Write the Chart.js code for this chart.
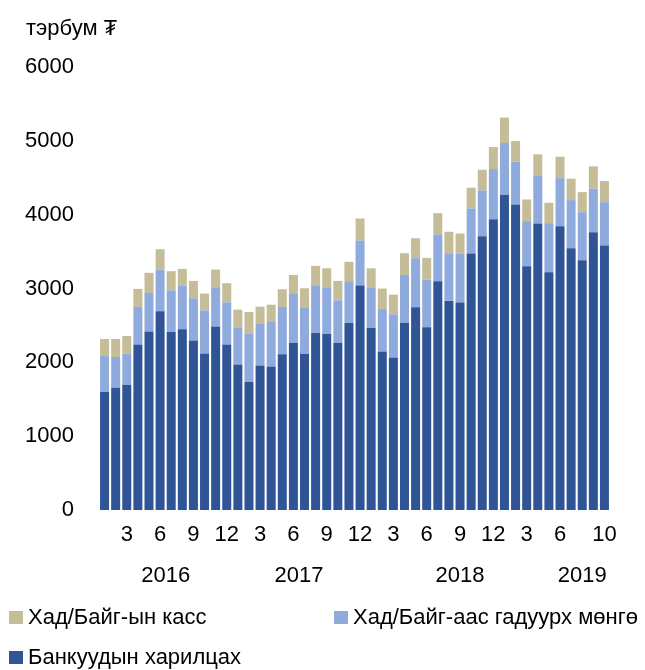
<!DOCTYPE html>
<html>
<head>
<meta charset="utf-8">
<script src="https://cdn.jsdelivr.net/npm/chart.js@4.4.1/dist/chart.umd.min.js"></script>
<style>
  html, body { margin: 0; padding: 0; background: #ffffff; }
  #wrap { width: 645px; height: 670px; position: relative; }
</style>
</head>
<body>
<div id="wrap"><canvas id="c" width="645" height="670"></canvas></div>
<script>
const categories = [
  "2016-01","2016-02","2016-03","2016-04","2016-05","2016-06","2016-07","2016-08","2016-09","2016-10","2016-11","2016-12",
  "2017-01","2017-02","2017-03","2017-04","2017-05","2017-06","2017-07","2017-08","2017-09","2017-10","2017-11","2017-12",
  "2018-01","2018-02","2018-03","2018-04","2018-05","2018-06","2018-07","2018-08","2018-09","2018-10","2018-11","2018-12",
  "2019-01","2019-02","2019-03","2019-04","2019-05","2019-06","2019-07","2019-08","2019-09","2019-10"
];
const tickLabels = [
  "","","3","","","6","","","9","","","12",
  "","","3","","","6","","","9","","","12",
  "","","3","","","6","","","9","","","12",
  "","","3","","","6","","","","10"
];
const yearLabels = ["2016", "2017", "2018", "2019"];
const yearLabelIndex = [5.5, 17.5, 32, 43];

const bankAccounts = [
  1597,1655,1692,2243,2419,2691,2411,2447,2297,2121,2487,2243,
  1972,1733,1958,1945,2108,2266,2112,2397,2388,2266,2533,3039,
  2469,2148,2067,2533,2745,2474,3098,2832,2809,3474,3709,3939,
  4270,4138,3301,3881,3220,3844,3546,3383,3763,3582
];
const outsideMoney = [
  488,417,429,507,521,561,565,588,570,583,529,570,
  502,659,561,601,642,669,624,647,628,574,565,611,
  547,575,583,651,665,647,633,646,660,610,619,679,
  700,580,611,642,665,651,651,651,588,588
];
const cashInVault = [
  231,244,236,245,272,280,258,231,236,227,240,258,
  240,290,235,235,240,249,267,262,258,263,263,298,
  258,276,267,294,271,294,289,290,276,281,281,298,
  345,279,294,294,276,290,290,271,303,285
];
const seriesNames = ["Хад/Байг-ын касс", "Хад/Байг-аас гадуурх мөнгө", "Банкуудын харилцах"];
const unitLabel = "тэрбум ₮";

const FONT = "'Liberation Sans', Arial, sans-serif";
const FSIZE = 22;
const COL_DARK = "#2F5597";
const COL_LIGHT = "#8FAADC";
const COL_TAN = "#C4BD97";

const extraText = {
  id: "extraText",
  afterDraw(chart) {
    const ctx = chart.ctx;
    const xs = chart.scales.x;
    ctx.save();
    ctx.fillStyle = "#000000";
    ctx.font = FSIZE + "px " + FONT;
    // unit label
    ctx.textAlign = "left";
    ctx.textBaseline = "middle";
    ctx.fillText(unitLabel, 26, 29);
    // year labels
    ctx.textAlign = "center";
    for (let i = 0; i < yearLabels.length; i++) {
      const x = xs.getPixelForValue(yearLabelIndex[i]);
      ctx.fillText(yearLabels[i], x, 576);
    }
    // legend
    const items = [
      { name: seriesNames[0], color: COL_TAN, x: 9, y: 617 },
      { name: seriesNames[1], color: COL_LIGHT, x: 334, y: 617 },
      { name: seriesNames[2], color: COL_DARK, x: 9, y: 657 }
    ];
    ctx.textAlign = "left";
    for (const it of items) {
      ctx.fillStyle = it.color;
      ctx.fillRect(it.x, it.y - 6, 14, 13);
      ctx.fillStyle = "#000000";
      ctx.fillText(it.name, it.x + 19, it.y + 1);
    }
    ctx.restore();
  }
};

new Chart(document.getElementById("c"), {
  type: "bar",
  data: {
    labels: categories,
    datasets: [
      { label: seriesNames[2], data: bankAccounts, backgroundColor: COL_DARK },
      { label: seriesNames[1], data: outsideMoney, backgroundColor: COL_LIGHT },
      { label: seriesNames[0], data: cashInVault, backgroundColor: COL_TAN }
    ]
  },
  options: {
    responsive: false,
    animation: false,
    devicePixelRatio: 1,
    datasets: { bar: { barPercentage: 0.81, categoryPercentage: 1.0, borderWidth: 0 } },
    layout: { padding: { left: 0, right: 35, top: 67, bottom: 120 } },
    plugins: { legend: { display: false }, tooltip: { enabled: false }, title: { display: false } },
    scales: {
      x: {
        stacked: true,
        grid: { display: false, drawTicks: false },
        border: { display: false },
        ticks: {
          autoSkip: false,
          maxRotation: 0,
          padding: 12,
          color: "#000000",
          font: { family: FONT, size: FSIZE },
          callback: function(v, i) { return tickLabels[i]; }
        },
        afterFit: function(s) { s.height = 40; }
      },
      y: {
        stacked: true,
        min: 0,
        max: 6000,
        grid: { display: false, drawTicks: false },
        border: { display: false },
        ticks: {
          stepSize: 1000,
          padding: 25,
          color: "#000000",
          font: { family: FONT, size: FSIZE },
          callback: function(v) { return String(v); }
        },
        afterFit: function(s) { s.width = 99; }
      }
    }
  },
  plugins: [extraText]
});
</script>
</body>
</html>
